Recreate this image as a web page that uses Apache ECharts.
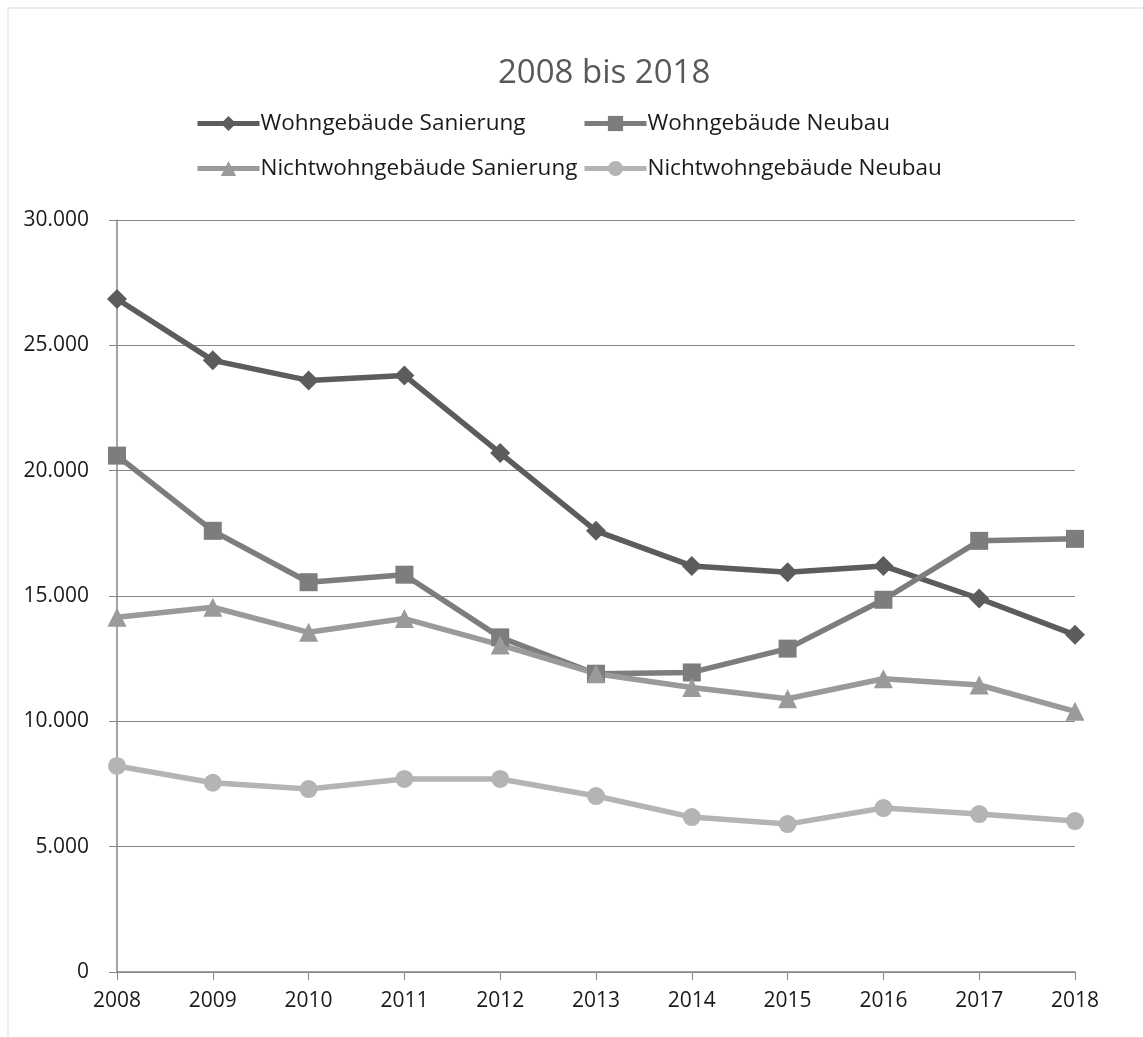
<!DOCTYPE html>
<html><head><meta charset="utf-8">
<script src="https://cdn.jsdelivr.net/npm/echarts@6/dist/echarts.min.js"></script>
<style>html,body{margin:0;padding:0;background:#fff}#c{width:1143px;height:1037px}</style>
</head><body><div id="c"></div>
<script>
const years = ['2008','2009','2010','2011','2012','2013','2014','2015','2016','2017','2018'];
const wohnSanierung = [26850, 24400, 23600, 23800, 20700, 17600, 16200, 15950, 16200, 14900, 13450];
const wohnNeubau = [20600, 17600, 15550, 15850, 13350, 11900, 11950, 12900, 14850, 17200, 17280];
const nichtwohnSanierung = [14150, 14550, 13550, 14100, 13050, 11900, 11350, 10900, 11700, 11450, 10400];
const nichtwohnNeubau = [8220, 7550, 7300, 7700, 7700, 7020, 6180, 5900, 6540, 6300, 6020];
const yTicks = {min: 0, max: 30000, interval: 5000};

const FONT = 'Open Sans';
const chart = echarts.init(document.getElementById('c'));
function fmt(v){ return String(v).replace(/\B(?=(\d{3})+(?!\d))/g, '.'); }
function legend(name, left, top){
  return {data:[name], left:left, top:top, itemWidth:62, itemHeight:19, itemGap:0,
    lineStyle:{width:5},
    textStyle:{fontFamily:FONT, fontSize:22.5, color:'#1a1a1a', padding:[0,0,0,-4]}};
}
function ser(name, data, color, symbol, size){
  return {name:name, type:'line', data:data, symbol:symbol, symbolSize:size,
    lineStyle:{color:color, width:5.5}, itemStyle:{color:color}, z: 3};
}
chart.setOption({
  animation:false,
  backgroundColor:'#fff',
  title:{text:'2008 bis 2018', left:493, top:52,
    textStyle:{fontFamily:FONT, fontSize:33, fontWeight:'normal', color:'#595959'}},
  legend:[
    legend('Wohngebäude Sanierung', 190, 107),
    legend('Wohngebäude Neubau', 577, 107),
    legend('Nichtwohngebäude Sanierung', 190, 152),
    legend('Nichtwohngebäude Neubau', 577, 152)
  ],
  grid:{left:117, right:68, top:220, bottom:65},
  xAxis:{type:'category', data:years, boundaryGap:false,
    axisLine:{lineStyle:{color:'#868686', width:1.5}},
    axisTick:{show:true, length:8, lineStyle:{color:'#868686'}},
    axisLabel:{fontFamily:FONT, fontSize:21, color:'#1a1a1a', margin:19}},
  yAxis:{type:'value', min:yTicks.min, max:yTicks.max, interval:yTicks.interval,
    axisLine:{show:true, lineStyle:{color:'#868686', width:1.5}},
    axisTick:{show:true, length:8, lineStyle:{color:'#868686'}},
    splitLine:{lineStyle:{color:'#868686', width:1.2}},
    axisLabel:{fontFamily:FONT, fontSize:21, color:'#1a1a1a', margin:28, formatter:fmt}},
  graphic:[{type:'rect', shape:{x:8, y:8, width:1160, height:1100}, style:{fill:'none', stroke:'#d9d9d9', lineWidth:1}, silent:true}],
  series:[
    ser('Wohngebäude Sanierung', wohnSanierung, '#5c5c5c', 'diamond', 20),
    ser('Wohngebäude Neubau', wohnNeubau, '#7d7d7d', 'rect', 18),
    ser('Nichtwohngebäude Sanierung', nichtwohnSanierung, '#9a9a9a', 'triangle', 19),
    ser('Nichtwohngebäude Neubau', nichtwohnNeubau, '#b4b4b4', 'circle', 18)
  ]
});
</script></body></html>
